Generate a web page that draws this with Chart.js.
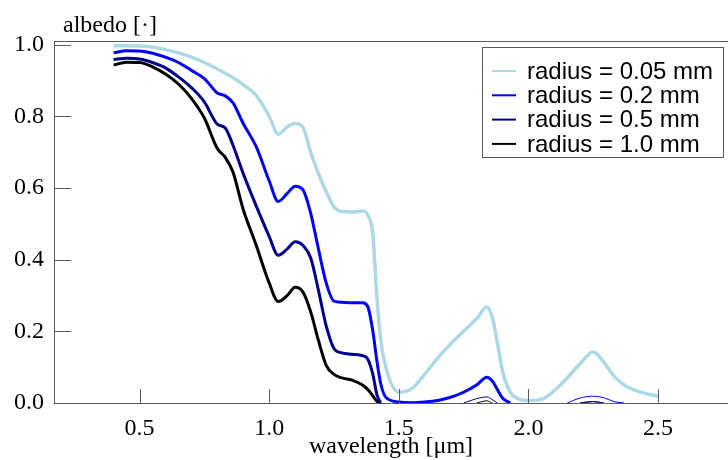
<!DOCTYPE html>
<html>
<head>
<meta charset="utf-8">
<script src="https://cdn.jsdelivr.net/npm/chart.js@4.4.0/dist/chart.umd.min.js"></script>
<style>
  body { margin: 0; background: #fff; }
  canvas { display: block; }
</style>
</head>
<body>
<canvas id="albedoChart" width="728" height="460"></canvas>
<script>
// wavelength samples in micrometres
var wavelength = [0.40, 0.45, 0.50, 0.55, 0.60, 0.65, 0.70, 0.75, 0.80, 0.83,
  0.86, 0.90, 0.95, 1.00, 1.035, 1.07, 1.10, 1.13, 1.16, 1.19,
  1.22, 1.25, 1.28, 1.32, 1.36, 1.38, 1.40, 1.415, 1.43, 1.45,
  1.50, 1.55, 1.60, 1.65, 1.70, 1.75, 1.80, 1.84, 1.86, 1.88,
  1.90, 1.93, 1.96, 2.00, 2.05, 2.10, 2.15, 2.20, 2.25, 2.29,
  2.33, 2.37, 2.41, 2.45, 2.50];

var albedo005 = [0.997, 0.997, 0.996, 0.993, 0.986, 0.977, 0.965, 0.950, 0.932, 0.920,
  0.908, 0.888, 0.858, 0.800, 0.750, 0.771, 0.780, 0.770, 0.700, 0.640,
  0.590, 0.547, 0.534, 0.533, 0.536, 0.525, 0.470, 0.300, 0.180, 0.100,
  0.030, 0.040, 0.080, 0.125, 0.165, 0.200, 0.235, 0.268, 0.240, 0.170,
  0.090, 0.030, 0.012, 0.007, 0.010, 0.035, 0.070, 0.110, 0.142, 0.115,
  0.075, 0.050, 0.036, 0.027, 0.019];

var albedo02 = [0.977, 0.983, 0.982, 0.976, 0.965, 0.950, 0.928, 0.905, 0.865, 0.857,
  0.838, 0.780, 0.715, 0.620, 0.562, 0.585, 0.605, 0.595, 0.530, 0.430,
  0.335, 0.284, 0.281, 0.280, 0.280, 0.270, 0.200, 0.120, 0.055, 0.016,
  0.003, 0.001, 0.003, 0.007, 0.016, 0.030, 0.050, 0.072, 0.062, 0.038,
  0.014, 0.000, null, null, null, null, 0.000, 0.014, 0.019, 0.015,
  0.004, 0.000, null, null, null];

var albedo05 = [0.958, 0.962, 0.960, 0.950, 0.935, 0.910, 0.880, 0.840, 0.778, 0.768,
  0.720, 0.640, 0.550, 0.465, 0.412, 0.430, 0.450, 0.440, 0.405, 0.315,
  0.215, 0.152, 0.140, 0.136, 0.132, 0.123, 0.080, 0.025, 0.000, null,
  null, null, null, null, null, 0.000, 0.012, 0.017, 0.010, 0.000,
  null, null, null, null, null, null, null, 0.000, 0.004, 0.000,
  null, null, null, null, null];

var albedo10 = [0.943, 0.951, 0.950, 0.938, 0.918, 0.890, 0.850, 0.795, 0.710, 0.686,
  0.645, 0.540, 0.440, 0.335, 0.283, 0.300, 0.323, 0.310, 0.255, 0.175,
  0.105, 0.080, 0.070, 0.064, 0.050, 0.038, 0.020, 0.005, 0.000, null,
  null, null, null, null, null, null, 0.000, 0.006, 0.000, null,
  null, null, null, null, null, null, null, 0.000, 0.004, 0.000,
  null, null, null, null, null];

var seriesLabels = ['radius = 0.05 mm', 'radius = 0.2 mm', 'radius = 0.5 mm', 'radius = 1.0 mm'];
var xTicks = [0.5, 1.0, 1.5, 2.0, 2.5];
var yTicks = [0.0, 0.2, 0.4, 0.6, 0.8, 1.0];

function toPoints(values) {
  return wavelength.map(function(w, i) { return {x: w, y: values[i]}; });
}

// parts of the curves that hug zero are drawn hairline thin
function thinFrom(limit) {
  return function(ctx) { return ctx.p0.parsed.x >= limit ? 1 : undefined; };
}

var axisColor = '#5a5a5a';

var frameTicks = {
  id: 'frameTicks',
  beforeDatasetsDraw: function(chart) {
    var c = chart.ctx, a = chart.chartArea;
    c.save();
    c.strokeStyle = axisColor;
    c.lineWidth = 1;
    c.beginPath();
    c.moveTo(a.left, Math.round(a.top) + 0.5);
    c.lineTo(a.right, Math.round(a.top) + 0.5);
    c.stroke();
    c.restore();
  },
  afterDatasetsDraw: function(chart) {
    var c = chart.ctx, a = chart.chartArea;
    var xs = chart.scales.x, ys = chart.scales.y;
    c.save();
    c.strokeStyle = axisColor;
    c.lineWidth = 1;
    c.beginPath();
    xTicks.forEach(function(v) {
      var px = Math.round(xs.getPixelForValue(v)) + 0.5;
      c.moveTo(px, a.bottom);
      c.lineTo(px, a.bottom - 14);
    });
    yTicks.forEach(function(v) {
      var py = Math.round(ys.getPixelForValue(v)) + 0.5;
      c.moveTo(a.left, py);
      c.lineTo(a.left + 17, py);
    });
    c.stroke();
    c.restore();
  }
};

var sideLabels = {
  id: 'sideLabels',
  afterDraw: function(chart) {
    var c = chart.ctx, a = chart.chartArea;
    c.save();
    // y axis label above the plot
    c.fillStyle = '#000';
    c.font = '24px "Liberation Serif"';
    c.textAlign = 'left';
    c.textBaseline = 'alphabetic';
    c.fillText('albedo [·]', a.left + 9, 32);

    // legend box
    var bx = 482.5, by = 47.5, bw = 241, bh = 110;
    c.fillStyle = '#fff';
    c.fillRect(bx, by, bw, bh);
    c.strokeStyle = axisColor;
    c.lineWidth = 1;
    c.strokeRect(bx, by, bw, bh);
    c.font = '24px "Liberation Sans"';
    c.textBaseline = 'middle';
    chart.data.datasets.forEach(function(ds, i) {
      var y = 71 + i * 24.3;
      c.strokeStyle = ds.borderColor;
      c.lineWidth = 2;
      c.beginPath();
      c.moveTo(492, y);
      c.lineTo(516, y);
      c.stroke();
      c.fillStyle = '#000';
      c.fillText(ds.label, 527, y + 1);
    });
    c.restore();
  }
};

new Chart(document.getElementById('albedoChart'), {
  type: 'line',
  data: {
    datasets: [
      {label: seriesLabels[0], data: toPoints(albedo005), borderColor: '#add8e6', borderWidth: 3.5},
      {label: seriesLabels[1], data: toPoints(albedo02), borderColor: '#0000ff', borderWidth: 3,
        segment: {borderWidth: thinFrom(2.1)}},
      {label: seriesLabels[2], data: toPoints(albedo05), borderColor: '#00008b', borderWidth: 3,
        segment: {borderWidth: thinFrom(1.5)}},
      {label: seriesLabels[3], data: toPoints(albedo10), borderColor: '#000000', borderWidth: 3,
        segment: {borderWidth: thinFrom(1.5)}}
    ]
  },
  options: {
    responsive: false,
    animation: false,
    layout: {padding: {top: 41, right: 0, bottom: 0, left: 0}},
    elements: {
      point: {radius: 0},
      line: {cubicInterpolationMode: 'monotone', fill: false}
    },
    plugins: {
      legend: {display: false},
      tooltip: {enabled: false}
    },
    scales: {
      x: {
        type: 'linear',
        min: 0.17,
        max: 2.77,
        afterBuildTicks: function(scale) {
          scale.ticks = xTicks.map(function(v) { return {value: v}; });
        },
        afterFit: function(scale) { scale.height = 57; },
        grid: {display: false, drawTicks: false},
        border: {display: true, color: axisColor, width: 1},
        ticks: {
          color: '#000',
          padding: 11,
          maxRotation: 0,
          font: {family: 'Liberation Serif', size: 24},
          callback: function(v) { return v.toFixed(1); }
        },
        title: {
          display: true,
          text: 'wavelength [μm]',
          color: '#000',
          font: {family: 'Liberation Serif', size: 24},
          padding: {top: 0, bottom: -1}
        }
      },
      y: {
        type: 'linear',
        min: 0,
        max: 1.01,
        afterBuildTicks: function(scale) {
          scale.ticks = yTicks.map(function(v) { return {value: v}; });
        },
        afterFit: function(scale) { scale.width = 54; },
        grid: {display: false, drawTicks: false},
        border: {display: true, color: axisColor, width: 1},
        ticks: {
          color: '#000',
          padding: 10,
          font: {family: 'Liberation Serif', size: 24},
          callback: function(v) { return v.toFixed(1); }
        }
      }
    }
  },
  plugins: [frameTicks, sideLabels]
});
</script>
</body>
</html>
